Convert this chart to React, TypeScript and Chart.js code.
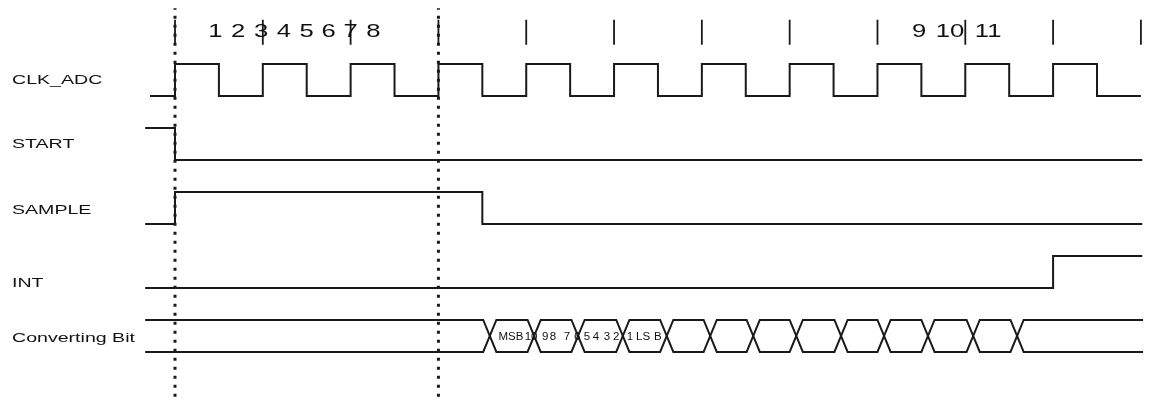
import React, { useEffect, useRef } from 'react';
import { Chart, registerables } from 'chart.js';

Chart.register(...registerables);

// time is in half clock periods, 0 = first rising edge after START falls
// levels are lane units: each lane's low level is its base, high is base + 0.5

const LANES = ['CLK_ADC', 'START', 'SAMPLE', 'INT', 'Converting Bit'];
const LANE_BASE = [4, 3, 2, 1, 0];
const LANE_LABEL_Y = [4.27, 3.27, 2.23, 1.09, 0.23];

const CLK_T = [-0.57, 0, 1, 2, 3, 4, 5, 6, 7, 8, 9, 10, 11, 12, 13, 14, 15, 16, 17, 18, 19, 20, 21, 22];
const CLK_V = [0, 1, 0, 1, 0, 1, 0, 1, 0, 1, 0, 1, 0, 1, 0, 1, 0, 1, 0, 1, 0, 1, 0, 0];

const START_T = [-0.68, 0, 22.03];
const START_V = [1, 0, 0];

const SAMPLE_T = [-0.68, 0, 7, 22.03];
const SAMPLE_V = [0, 1, 0, 0];

const INT_T = [-0.68, 20, 22.03];
const INT_V = [0, 1, 1];

const BIT_START = -0.68;
const BIT_END = 22.05;
const BIT_CROSS = [7.17, 8.18, 9.18, 10.2, 11.2, 12.19, 13.17, 14.15, 15.17, 16.15, 17.15, 18.18, 19.18];
const BIT_HALF = 0.15;

const BIT_LABELS = ['MSB', '10', '9', '8', '7', '6', '5', '4', '3', '2', '1', 'LS', 'B'];
const BIT_LABEL_T = [7.65, 8.11, 8.43, 8.61, 8.93, 9.16, 9.38, 9.59, 9.84, 10.05, 10.36, 10.66, 11.0];

const TOP_NUMS = ['1', '2', '3', '4', '5', '6', '7', '8', '9', '10', '11'];
const TOP_NUM_T = [0.92, 1.44, 1.96, 2.48, 3.0, 3.5, 4.0, 4.52, 16.95, 17.65, 18.52];
const TOP_NUM_Y = 5.03;

const TICK_T = [0, 2, 4, 6, 8, 10, 12, 14, 16, 18, 20, 22];
const TICK_Y = [4.8, 5.19];

const DOTTED_T = [0, 6];
const DOTTED_Y = [-0.7, 5.37];

const INK = '#1a1a1a';
const FONT = '"Liberation Sans", Arial, sans-serif';

const stepData = (ts: number[], vs: number[], base: number) =>
  ts.map((t, i) => ({ x: t, y: base + 0.5 * vs[i] }));

const bitPath = (startHigh: boolean) => {
  let high = startHigh;
  const pts = [{ x: BIT_START, y: high ? 0.5 : 0 }];
  BIT_CROSS.forEach((c) => {
    pts.push({ x: c - BIT_HALF, y: high ? 0.5 : 0 });
    high = !high;
    pts.push({ x: c + BIT_HALF, y: high ? 0.5 : 0 });
  });
  pts.push({ x: BIT_END, y: high ? 0.5 : 0 });
  return pts;
};

const vLines = (ts: number[], ys: number[]) =>
  ts.flatMap((t) => [{ x: t, y: ys[0] }, { x: t, y: ys[1] }, { x: t, y: null }]);

const drawText = (ctx, text, px, py, size, stretch, align) => {
  ctx.save();
  ctx.translate(px, py + size * 0.358);
  ctx.scale(stretch, 1);
  ctx.font = `${size}px ${FONT}`;
  ctx.fillStyle = '#111';
  ctx.textAlign = align;
  ctx.textBaseline = 'alphabetic';
  ctx.fillText(text, 0, 0);
  ctx.restore();
};

const textPlugin = {
  id: 'timingText',
  afterDatasetsDraw(chart) {
    const { ctx, scales } = chart;
    const x = scales.x;
    const y = scales.y;
    LANES.forEach((name, i) => {
      drawText(ctx, name, chart.chartArea.left + 12, y.getPixelForValue(LANE_LABEL_Y[i]), 13.5, 1.45, 'left');
    });
    TOP_NUMS.forEach((n, i) => {
      drawText(ctx, n, x.getPixelForValue(TOP_NUM_T[i]), y.getPixelForValue(TOP_NUM_Y), 19, 1.35, 'center');
    });
    BIT_LABELS.forEach((b, i) => {
      drawText(ctx, b, x.getPixelForValue(BIT_LABEL_T[i]), y.getPixelForValue(0.25), 10, 1.15, 'center');
    });
  },
};

const TimingChart = () => {
  const canvasRef = useRef(null);

  useEffect(() => {
    if (!canvasRef.current) return;

    const line = (data, extra = {}) => ({
      data,
      borderColor: INK,
      borderWidth: 2,
      pointRadius: 0,
      fill: false,
      tension: 0,
      ...extra,
    });

    const chart = new Chart(canvasRef.current, {
      type: 'line',
      data: {
        datasets: [
          line(stepData(CLK_T, CLK_V, LANE_BASE[0]), { stepped: true }),
          line(stepData(START_T, START_V, LANE_BASE[1]), { stepped: true }),
          line(stepData(SAMPLE_T, SAMPLE_V, LANE_BASE[2]), { stepped: true }),
          line(stepData(INT_T, INT_V, LANE_BASE[3]), { stepped: true }),
          line(bitPath(true)),
          line(bitPath(false)),
          line(vLines(TICK_T, TICK_Y), { borderWidth: 1.8 }),
          line(vLines(DOTTED_T, DOTTED_Y), { borderWidth: 3, borderDash: [3, 6], borderCapStyle: 'butt' }),
        ],
      },
      options: {
        animation: false,
        responsive: false,
        events: [],
        layout: { padding: 0 },
        plugins: { legend: { display: false }, tooltip: { enabled: false } },
        scales: {
          x: { type: 'linear', min: -3.986, max: 22.23, display: false },
          y: { type: 'linear', min: -0.797, max: 5.5, display: false },
        },
      },
      plugins: [textPlugin],
    });

    return () => {
      chart.destroy();
    };
  }, []);

  return <canvas ref={canvasRef} width={1151} height={403} />;
};

export default function App() {
  return (
    <div style={{ position: 'absolute', left: 0, top: 0, width: 1151, height: 403, background: '#fff' }}>
      <TimingChart />
    </div>
  );
}
